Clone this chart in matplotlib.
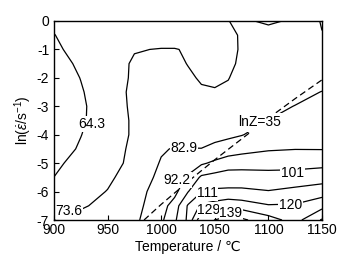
import matplotlib
matplotlib.use('Agg')
import matplotlib.pyplot as plt
import numpy as np

plt.rcParams['font.family'] = ['Liberation Sans', 'DejaVu Sans']
plt.rcParams['mathtext.fontset'] = 'custom'
plt.rcParams['mathtext.rm'] = 'Liberation Sans'
plt.rcParams['mathtext.it'] = 'Liberation Sans:italic'
plt.rcParams['axes.unicode_minus'] = False

# ---- data -------------------------------------------------------------
temperature = [900, 925, 950, 975, 1000, 1012.5, 1025, 1037.5, 1050, 1062.5, 1075, 1100, 1125, 1150]
ln_rate = [0, -0.5, -1, -1.5, -2, -2.5, -3, -3.5, -4, -4.5, -5, -5.5, -6, -6.5, -7]

z_r0_0 = [65.0, 66.5, 67.5, 68.5, 69.0, 69.0, 69.0, 69.0, 68.5, 73.0, 80.0, 86.0, 80.0, 73.0]
z_r0_5 = [64.2, 66.0, 68.0, 69.5, 70.0, 70.0, 70.2, 70.5, 70.3, 71.5, 74.5, 74.9, 75.0, 73.9]
z_r1_0 = [63.3, 66.2, 69.1, 73.2, 73.9, 73.9, 73.0, 71.5, 71.0, 72.0, 74.2, 75.5, 75.8, 75.5]
z_r1_5 = [61.5, 65.5, 70.0, 74.5, 75.5, 75.0, 73.4, 72.0, 71.5, 72.5, 74.5, 76.3, 77.0, 77.6]
z_r2_0 = [59.5, 64.5, 69.5, 74.8, 76.0, 75.8, 74.5, 73.0, 72.5, 73.4, 75.5, 77.3, 78.6, 80.0]
z_r2_5 = [57.5, 63.6, 69.3, 75.5, 76.0, 75.8, 75.0, 74.3, 74.1, 74.6, 76.0, 78.3, 80.6, 83.1]
z_r3_0 = [56.0, 62.9, 69.2, 75.2, 75.8, 76.2, 76.0, 75.8, 76.0, 77.0, 78.2, 80.8, 83.1, 85.2]
z_r3_5 = [56.5, 63.1, 69.0, 74.8, 75.8, 76.7, 77.6, 78.5, 79.4, 80.3, 81.2, 83.0, 86.0, 87.5]
z_r4_0 = [58.0, 64.1, 69.4, 74.7, 76.3, 77.4, 78.5, 79.0, 80.0, 81.0, 82.5, 87.1, 89.2, 89.7]
z_r4_5 = [60.5, 65.2, 70.0, 75.3, 82.0, 83.5, 83.2, 83.1, 85.3, 87.4, 89.3, 91.4, 92.0, 91.9]
z_r5_0 = [62.8, 66.8, 70.5, 75.8, 83.6, 85.9, 88.4, 90.9, 94.0, 96.9, 97.3, 97.5, 97.7, 98.2]
z_r5_5 = [64.35, 68.2, 72.0, 77.8, 85.0, 88.8, 93.1, 102.5, 104.2, 105.3, 105.2, 104.4, 104.8, 106.8]
z_r6_0 = [67.0, 70.3, 73.9, 79.7, 86.5, 89.5, 100.6, 110.5, 112.8, 113.0, 113.0, 111.5, 113.8, 116.0]
z_r6_5 = [70.5, 72.6, 76.0, 80.0, 88.6, 96.0, 112.0, 121.5, 123.5, 126.0, 124.5, 120.7, 120.9, 125.8]
z_r7_0 = [73.8, 76.4, 78.5, 81.0, 90.6, 99.3, 112.9, 136.0, 139.2, 143.0, 141.0, 132.7, 125.4, 140.0]

levels = [64.3, 73.6, 82.9, 92.2, 101, 111, 120, 129, 139]
level_labels = ['64.3', '73.6', '82.9', '92.2', '101', '111', '120', '129', '139']

# lnZ = 35 iso-line
lnz_temperature = [984, 1000, 1025, 1050, 1075, 1100, 1125, 1150]
lnz_rate = [-7.0, -6.45, -5.65, -4.88, -4.15, -3.42, -2.73, -2.07]
lnz_label = 'lnZ=35'

x_ticks = [900, 950, 1000, 1050, 1100, 1150]
y_ticks = [0, -1, -2, -3, -4, -5, -6, -7]

# ---- figure -----------------------------------------------------------
Z = np.array([z_r0_0, z_r0_5, z_r1_0, z_r1_5, z_r2_0, z_r2_5, z_r3_0, z_r3_5,
              z_r4_0, z_r4_5, z_r5_0, z_r5_5, z_r6_0, z_r6_5, z_r7_0])
T, E = np.meshgrid(temperature, ln_rate)

fig = plt.figure(figsize=(3.51, 2.65), dpi=100)
ax = fig.add_axes([54/351, 45/265, 268/351, 199/265])

ax.contour(T, E, Z, levels=levels, colors='black', linewidths=0.9,
           linestyles='solid', zorder=2)
ax.plot(lnz_temperature, lnz_rate, color='black', lw=0.9, dashes=(5, 3), zorder=2)

label_pos = {
    '64.3': (935.5, -3.62),
    '73.6': (914, -6.68),
    '82.9': (1021, -4.45),
    '92.2': (1015, -5.59),
    '101': (1122.5, -5.35),
    '111': (1043, -6.05),
    '120': (1120.5, -6.47),
    '129': (1044.5, -6.65),
    '139': (1065, -6.77),
}
box = dict(boxstyle='square,pad=0.05', fc='white', ec='none')
for lab in level_labels:
    x, y = label_pos[lab]
    ax.text(x, y, lab, ha='center', va='center', fontsize=10, bbox=box, zorder=5)
ax.text(1091.5, -3.57, lnz_label, ha='center', va='center', fontsize=10,
        bbox=dict(boxstyle='square,pad=0.15', fc='white', ec='none'), zorder=5)

ax.set_xlim(900, 1150)
ax.set_ylim(-7, 0)
ax.set_xticks(x_ticks)
ax.set_yticks(y_ticks)
ax.set_yticklabels([str(v) for v in y_ticks])
ax.tick_params(direction='in', length=3.5, width=0.8, labelsize=10)
ax.tick_params(axis='x', pad=2.5)
ax.tick_params(axis='y', pad=3.5)
for s in ax.spines.values():
    s.set_linewidth(1.0)
    s.set_zorder(6)

ax.set_xlabel('Temperature / \u2103', fontsize=10, labelpad=2)
ax.set_ylabel(r'ln($\dot{\varepsilon}$/s$^{-1}$)', fontsize=10, labelpad=2)

fig.savefig('out.png', dpi=100)
